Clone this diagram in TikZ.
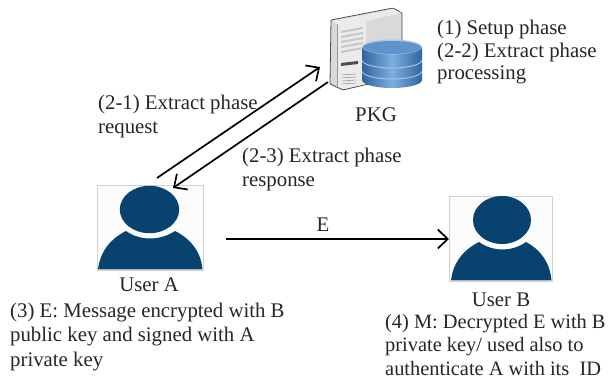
\documentclass[tikz,border=0pt]{standalone}
\usepackage{fontspec}
\setmainfont{Liberation Serif}
\usetikzlibrary{arrows.meta}
\definecolor{navy}{HTML}{08426F}
\definecolor{dbside}{HTML}{2F64A0}
\definecolor{dbmid}{HTML}{7FAEDD}
\definecolor{dbtop}{HTML}{5F93CC}
\definecolor{dbrim}{HTML}{A9C8E8}
\tikzset{
 txt/.style={inner sep=0pt,anchor=north west,align=left,font=\fontsize{20.8}{24.3}\selectfont,text=black!85},
 txtb/.style={txt,font=\fontsize{20.8}{22.6}\selectfont},
 txtc/.style={txt,font=\fontsize{20.4}{23.5}\selectfont},
 lbl/.style={inner sep=0pt,font=\fontsize{20.8}{24}\selectfont,text=black!85},
 conn/.style={line width=1.7pt,-{Straight Barb[length=10pt,width=19pt,line width=1.7pt]}},
 ubox/.style={draw=black!18,line width=.6pt,fill=black!1,inner sep=0pt,minimum width=106pt,minimum height=85pt},
}
\begin{document}
\begin{tikzpicture}[x=1pt,y=-1pt]
\useasboundingbox (0,0) rectangle (614,379);
\fill[white] (0,0) rectangle (614,379);
% user A
\node[ubox] (usera) at (150,227.5) {};
\fill[navy] (149.5,209.5) ellipse [x radius=29.7pt,y radius=23.7pt];
\fill[navy] (98,269.5) .. controls (100,252) and (110,239) .. (126,231) .. controls (140,241) and (160,241) .. (175,231) .. controls (191,239) and (201,252) .. (202.5,269.5) -- cycle;
\node[lbl] (labela) at (149,285) {User A};
% user B
\node[ubox,minimum width=103pt,minimum height=85pt] (userb) at (500.5,238.5) {};
\fill[navy] (502,220) ellipse [x radius=29pt,y radius=24pt];
\fill[navy] (451,280.5) .. controls (453,263) and (463,250) .. (479,242) .. controls (493,252) and (512,252) .. (526,242) .. controls (541,250) and (550,263) .. (551.5,280.5) -- cycle;
\node[lbl] (labelb) at (501,300) {User B};
% server
\node[inner sep=0pt,minimum width=72pt,minimum height=82pt] (pkg) at (366,49) {};
\fill[black!15,draw=black!70,line width=.8pt,rounded corners=1pt] (331,20) -- (393,8) -- (402,13) -- (402,76) -- (343,90) -- (330,84) -- cycle;
\fill[black!8] (332,21) -- (393,9) -- (401,13) -- (366,21) -- (366,84) -- (343,89) -- (337,86) -- (337,24) -- cycle;
\draw[black!40,line width=.6pt] (337,24) -- (337,86);
\foreach \y in {31,36,41,46,51} \fill[black!22] (341,\y) -- (363,\y-4) -- (363,\y-2) -- (341,\y+2) -- cycle;
\fill[black!70] (341,63) -- (358,61) -- (358,64) -- (341,66) -- cycle;
\foreach \y in {75,78,81,84} \draw[black!40,line width=.6pt] (342,\y) -- (356,\y-1);
% database
\shade[left color=dbside,right color=dbside,middle color=dbmid]
 (362,47) -- (362,80) arc [start angle=180,end angle=360,x radius=30pt,y radius=8pt] -- (422,47) -- cycle;
\fill[dbrim] (392,47) ellipse [x radius=30pt,y radius=7.5pt];
\fill[dbtop] (392,47.5) ellipse [x radius=29pt,y radius=6.5pt];
\draw[dbrim,line width=.9pt] (362,60) arc [start angle=180,end angle=360,x radius=30pt,y radius=8pt];
\draw[dbrim,line width=.9pt] (362,71) arc [start angle=180,end angle=360,x radius=30pt,y radius=8pt];
\node[lbl] (labelpkg) at (376,115) {PKG};
% connectors
\coordinate (a1) at (157,178);
\coordinate (p1) at (320,67);
\coordinate (p2) at (328,82);
\coordinate (a2) at (173,188);
\coordinate (a3) at (226,239);
\coordinate (b3) at (449,239);
\draw[conn] (a1) -- (p1);
\draw[conn] (p2) -- (a2);
\draw[conn] (a3) -- (b3);
% text
\node[txtb] (t1) at (437,20) {(1) Setup phase\\(2-2) Extract phase\\processing};
\node[txt] (t2) at (98,94.5) {(2-1) Extract phase\\request};
\node[txt] (t3) at (242,148) {(2-3) Extract phase\\response};
\node[lbl] (te) at (323,225) {E};
\node[txt] (t4) at (10,303) {(3) E: Message encrypted with B\\public key and signed with A\\private key};
\node[txtc] (t5) at (385,314) {(4) M: Decrypted E with B\\private key/ used also to\\authenticate A with its\ \ ID};
\end{tikzpicture}
\end{document}
